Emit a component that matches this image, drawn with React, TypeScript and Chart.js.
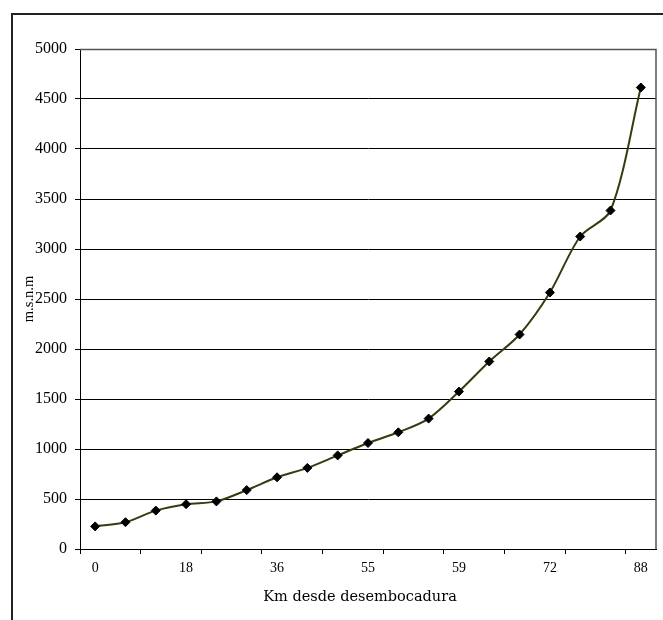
import React, { useEffect, useRef } from "react";
import { Chart, registerables } from "chart.js";

Chart.register(...registerables);

const kmLabels = ["0", "6", "12", "18", "24", "30", "36", "42", "48", "55", "56", "58", "59", "63", "68", "72", "80", "85", "88"];
const elevation = [226, 268, 384, 448, 476, 589, 717, 811, 936, 1060, 1167, 1304, 1574, 1875, 2145, 2565, 3125, 3385, 4615];
const yTicks = [0, 500, 1000, 1500, 2000, 2500, 3000, 3500, 4000, 4500, 5000];
const labelEvery = 3;
const tickMarkEvery = 2;
const xTitle = "Km desde desembocadura";
const yTitle = "m.s.n.m";

const frame = {
  id: "frame",
  beforeDraw(chart: any) {
    const { ctx } = chart;
    ctx.save();
    ctx.fillStyle = "#fff";
    ctx.fillRect(0, 0, chart.width, chart.height);
    ctx.strokeStyle = "#222";
    ctx.lineWidth = 2;
    ctx.beginPath();
    ctx.moveTo(12, chart.height);
    ctx.lineTo(12, 14);
    ctx.lineTo(chart.width, 14);
    ctx.stroke();
    ctx.restore();
  },
  afterDatasetsDraw(chart: any) {
    const { ctx, chartArea } = chart;
    ctx.save();
    ctx.strokeStyle = "#555";
    ctx.lineWidth = 1.5;
    ctx.beginPath();
    ctx.moveTo(chartArea.left, chartArea.top + 0.5);
    ctx.lineTo(chartArea.right, chartArea.top + 0.5);
    ctx.lineTo(chartArea.right, chartArea.bottom);
    ctx.stroke();
    // axis titles
    ctx.fillStyle = "#000";
    ctx.textAlign = "center";
    ctx.textBaseline = "middle";
    ctx.font = "14.5px 'DejaVu Serif'";
    ctx.fillText(xTitle, 360, 597);
    ctx.translate(29, (chartArea.top + chartArea.bottom) / 2);
    ctx.rotate(-Math.PI / 2);
    ctx.font = "14.5px 'Liberation Serif'";
    ctx.fillText(yTitle, 0, 0);
    ctx.restore();
  },
};

export default function App() {
  const ref = useRef<HTMLCanvasElement>(null);
  useEffect(() => {
    if (!ref.current) return;
    const chart = new Chart(ref.current, {
      type: "line",
      data: {
        labels: kmLabels,
        datasets: [
          {
            data: elevation,
            borderColor: "#3a3a10",
            borderWidth: 2,
            tension: 0.3,
            pointStyle: "rectRot",
            pointRadius: 4.5,
            pointBackgroundColor: "#000",
            pointBorderColor: "#000",
            pointBorderWidth: 1,
          },
        ],
      },
      options: {
        animation: false,
        responsive: true,
        maintainAspectRatio: false,
        layout: { padding: { top: 49, right: 7, left: 0, bottom: 0 } },
        plugins: { legend: { display: false }, tooltip: { enabled: false } },
        scales: {
          x: {
            type: "category",
            offset: true,
            afterFit: (s: any) => { s.height = 71; },
            grid: {
              offset: true,
              drawOnChartArea: false,
              drawTicks: true,
              tickLength: 5,
              color: (c: any) => (c.index !== undefined && c.index % tickMarkEvery === 0 ? "#000" : "rgba(0,0,0,0)"),
            },
            border: { display: true, color: "#000", width: 1 },
            ticks: {
              autoSkip: false,
              maxRotation: 0,
              minRotation: 0,
              padding: 6,
              color: "#000",
              font: { family: "Liberation Serif", size: 14 },
              callback: (_v: any, i: number) => (i % labelEvery === 0 ? kmLabels[i] : ""),
            },
          },
          y: {
            min: 0,
            max: 5000,
            afterFit: (s: any) => { s.width = 80; },
            afterBuildTicks: (s: any) => { s.ticks = yTicks.map((v) => ({ value: v })); },
            grid: { color: "#000", lineWidth: 1, tickLength: 5, drawTicks: true },
            border: { display: true, color: "#000", width: 1 },
            ticks: {
              padding: 8,
              color: "#000",
              font: { family: "Liberation Serif", size: 16 },
              callback: (v: any) => String(v),
            },
          },
        },
      },
      plugins: [frame],
    });
    return () => chart.destroy();
  }, []);
  return (
    <div style={{ position: "fixed", left: 0, top: 0, width: 663, height: 620, background: "#fff" }}>
      <canvas ref={ref} />
    </div>
  );
}
